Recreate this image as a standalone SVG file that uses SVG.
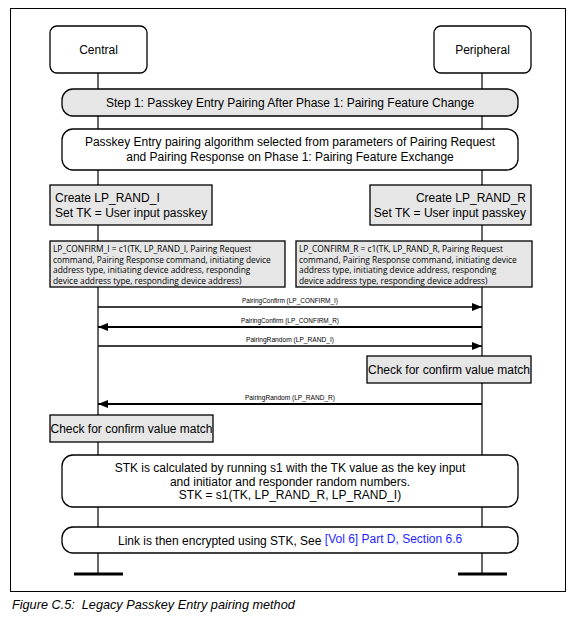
<svg xmlns="http://www.w3.org/2000/svg" width="574" height="622" viewBox="0 0 574 622">
<defs>
<style>
.t{font-family:"Liberation Sans",Arial,sans-serif;font-size:12px;fill:#000}
.s{font-family:"Open Sans","Noto Sans",sans-serif;font-size:8.4px;fill:#000}
.m{font-family:"Liberation Sans",Arial,sans-serif;font-size:7px;fill:#000}
.box{stroke:#000;stroke-width:1.3}
.g{fill:#e6e6e6}
.w{fill:#fff}
.ln{stroke:#000;stroke-width:1.2;fill:none}
</style>
<marker id="ah" viewBox="0 0 10 8" refX="10" refY="4" markerWidth="10" markerHeight="8" markerUnits="userSpaceOnUse" orient="auto">
<path d="M0,0 L10,4 L0,8 z" fill="#000"/>
</marker>
</defs>
<rect x="0" y="0" width="574" height="622" fill="#fff"/>
<rect x="10.5" y="8.5" width="555" height="583" fill="none" stroke="#000" stroke-width="1"/>

<g id="lifelines">
<line class="ln" x1="98" y1="73" x2="98" y2="574"/>
<line class="ln" x1="482" y1="73" x2="482" y2="574"/>
<line x1="74" y1="574" x2="123" y2="574" stroke="#000" stroke-width="3"/>
<line x1="458" y1="574" x2="507" y2="574" stroke="#000" stroke-width="3"/>
</g>

<g id="central">
<rect class="box w" x="50" y="26" width="97" height="47" rx="7"/>
<text class="t" x="98.5" y="54" text-anchor="middle">Central</text>
</g>
<g id="peripheral">
<rect class="box w" x="434" y="26" width="97" height="47" rx="7"/>
<text class="t" x="482.5" y="54" text-anchor="middle">Peripheral</text>
</g>

<g id="step1">
<rect class="box g" x="62" y="89" width="456" height="27" rx="11"/>
<text class="t" x="290" y="107" text-anchor="middle">Step 1: Passkey Entry Pairing After Phase 1: Pairing Feature Change</text>
</g>
<g id="phase">
<rect class="box w" x="62" y="129" width="456" height="41" rx="11"/>
<text class="t" x="290" y="146" text-anchor="middle">Passkey Entry pairing algorithm selected from parameters of Pairing Request</text>
<text class="t" x="290" y="161" text-anchor="middle">and Pairing Response on Phase 1: Pairing Feature Exchange</text>
</g>

<g id="create-i">
<rect class="box g" x="50" y="185" width="162" height="40"/>
<text class="t" x="55" y="202">Create LP_RAND_I</text>
<text class="t" x="55" y="217">Set TK = User input passkey</text>
</g>
<g id="create-r">
<rect class="box g" x="370" y="185" width="161" height="40"/>
<text class="t" x="526" y="202" text-anchor="end">Create LP_RAND_R</text>
<text class="t" x="526" y="217" text-anchor="end">Set TK = User input passkey</text>
</g>

<g id="confirm-i">
<rect class="box g" x="50" y="241" width="235" height="46"/>
<text class="s" x="53" y="252">LP_CONFIRM_I = c1(TK, LP_RAND_I, Pairing Request</text>
<text class="s" x="53" y="262.5">command, Pairing Response command, initiating device</text>
<text class="s" x="53" y="273">address type, initiating device address, responding</text>
<text class="s" x="53" y="283.5">device address type, responding device address)</text>
</g>
<g id="confirm-r">
<rect class="box g" x="296" y="241" width="236" height="46"/>
<text class="s" x="299" y="252">LP_CONFIRM_R = c1(TK, LP_RAND_R, Pairing Request</text>
<text class="s" x="299" y="262.5">command, Pairing Response command, initiating device</text>
<text class="s" x="299" y="273">address type, initiating device address, responding</text>
<text class="s" x="299" y="283.5">device address type, responding device address)</text>
</g>

<g id="connectors">
<line x1="98" y1="307" x2="482" y2="307" stroke="#000" stroke-width="1.3" marker-end="url(#ah)"/>
<text class="m" x="290" y="303" text-anchor="middle" textLength="96" lengthAdjust="spacingAndGlyphs">PairingConfirm (LP_CONFIRM_I)</text>
<line x1="482" y1="327" x2="98" y2="327" stroke="#000" stroke-width="2" marker-end="url(#ah)"/>
<text class="m" x="290" y="322.5" text-anchor="middle" textLength="98" lengthAdjust="spacingAndGlyphs">PairingConfirm (LP_CONFIRM_R)</text>
<line x1="98" y1="346" x2="482" y2="346" stroke="#000" stroke-width="1.3" marker-end="url(#ah)"/>
<text class="m" x="290" y="342" text-anchor="middle" textLength="88" lengthAdjust="spacingAndGlyphs">PairingRandom (LP_RAND_I)</text>
<line x1="482" y1="404" x2="98" y2="404" stroke="#000" stroke-width="2" marker-end="url(#ah)"/>
<text class="m" x="290" y="400" text-anchor="middle" textLength="90" lengthAdjust="spacingAndGlyphs">PairingRandom (LP_RAND_R)</text>
</g>

<g id="check-r">
<rect class="box g" x="367" y="356" width="164" height="27"/>
<text class="t" x="449" y="374" text-anchor="middle">Check for confirm value match</text>
</g>
<g id="check-i">
<rect class="box g" x="50" y="415" width="163" height="27"/>
<text class="t" x="131.5" y="433" text-anchor="middle">Check for confirm value match</text>
</g>

<g id="stk">
<rect class="box w" x="62" y="455" width="456" height="52" rx="11"/>
<text class="t" x="290" y="472" text-anchor="middle">STK is calculated by running s1 with the TK value as the key input</text>
<text class="t" x="290" y="486" text-anchor="middle">and initiator and responder random numbers.</text>
<text class="t" x="290" y="499" text-anchor="middle">STK = s1(TK, LP_RAND_R, LP_RAND_I)</text>
</g>
<g id="link">
<rect class="box w" x="62" y="527" width="456" height="26" rx="11"/>
<text class="t" x="118" y="545">Link is then encrypted using STK, See <tspan fill="#1f1fff" dy="-2">[Vol 6] Part D, Section 6.6</tspan></text>
</g>

<text x="12" y="609" font-family="Liberation Sans, Arial, sans-serif" font-size="12.7" font-style="italic" fill="#000">Figure C.5:&#160; Legacy Passkey Entry pairing method</text>
</svg>
